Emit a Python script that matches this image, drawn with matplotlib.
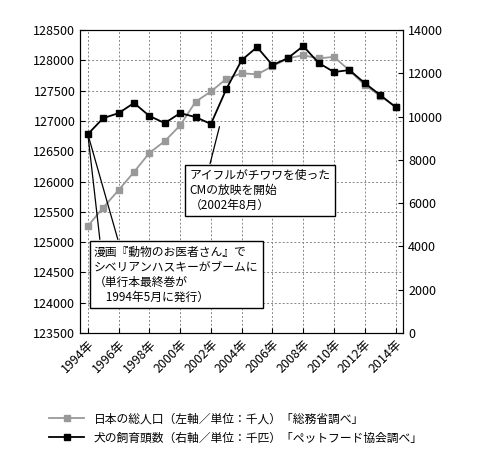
import matplotlib
matplotlib.use("Agg")
import matplotlib.pyplot as plt

plt.rcParams['font.family'] = ['Noto Sans CJK JP', 'DejaVu Sans']

years = list(range(1994, 2015))
population = [125265, 125570, 125859, 126157, 126472, 126667, 126926, 127316,
              127486, 127694, 127787, 127768, 127901, 128033, 128084, 128032,
              128057, 127834, 127593, 127414, 127237]
dogs = [9190, 9930, 10160, 10630, 10030, 9700, 10160, 9980, 9660, 11270,
        12610, 13210, 12380, 12700, 13260, 12480, 12060, 12150, 11550, 11000, 10440]
xticks = list(range(1994, 2015, 2))
xlabels = [f"{y}年" for y in xticks]

fig = plt.figure(figsize=(4.8, 4.55), dpi=100)
ax = fig.add_axes([0.167, 0.268, 0.673, 0.666])
ax2 = ax.twinx()

l1, = ax.plot(years, population, '-s', color='#999999', markersize=5, lw=1.3,
              label='日本の総人口（左軸／単位：千人）「総務省調べ」')
l2, = ax2.plot(years, dogs, '-s', color='black', markersize=5, lw=1.3,
               label='犬の飼育頭数（右軸／単位：千匹）「ペットフード協会調べ」')

ax.set_xlim(1993.5, 2014.5)
ax.set_ylim(123500, 128500)
ax.set_yticks(range(123500, 128501, 500))
ax2.set_ylim(0, 14000)
ax2.set_yticks(range(0, 14001, 2000))
ax.set_xticks(xticks)
ax.set_xticklabels(xlabels, rotation=45, ha='right', rotation_mode='anchor')
ax.tick_params(labelsize=9, direction='in')
ax2.tick_params(labelsize=9, direction='in')
ax.grid(True, linestyle=(0, (2, 2)), color='#888888', lw=0.7)

box = dict(boxstyle='square,pad=0.35', fc='white', ec='black')
line = dict(arrowstyle='-', color='black', lw=0.9)

# アイフル
ax2.annotate('', xy=(2002.6, 9660), xytext=(2001.9, 7700), arrowprops=line)
ax2.text(2000.6, 6600, 'アイフルがチワワを使った\nCMの放映を開始\n（2002年8月）',
         fontsize=8.5, ha='left', va='center', bbox=box, zorder=5)

# 動物のお医者さん
ax2.annotate('', xy=(1994, 9190), xytext=(1994.8, 4200), arrowprops=line)
ax2.annotate('', xy=(1994, 9190), xytext=(1996.0, 4200), arrowprops=line)
txt = '漫画『動物のお医者さん』で\nシベリアンハスキーがブームに\n（単行本最終巻が\n　1994年5月に発行）'
ax2.text(1994.4, 2700, txt, fontsize=8.5, ha='left', va='center', bbox=box, zorder=5)

fig.legend(handles=[l1, l2], loc='lower left', bbox_to_anchor=(0.08, 0.0),
           frameon=False, fontsize=8.5, handlelength=3)
fig.savefig('out.png', dpi=100)
